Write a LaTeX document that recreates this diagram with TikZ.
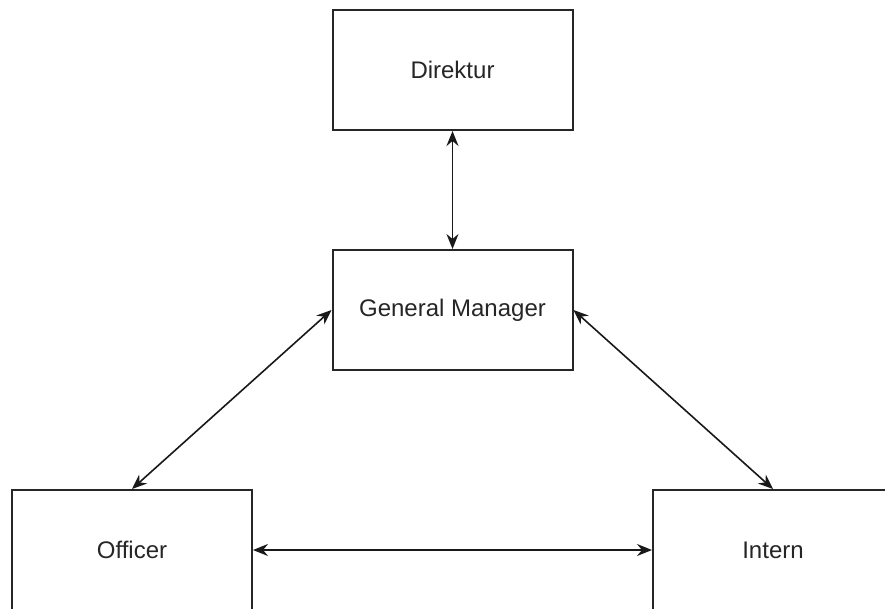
\documentclass[tikz,border=0pt]{standalone}
\usepackage{fontspec}
\setmainfont{Liberation Sans}
\usetikzlibrary{arrows.meta}
\begin{document}
\begin{tikzpicture}[x=1pt,y=-1pt,
  box/.style={draw=black!85, line width=2pt, fill=white, minimum width=240pt, minimum height=120pt, inner sep=0pt, font=\fontsize{24}{28}\selectfont, text=black!85},
  link/.style={line width=1.6pt, black!90, {Stealth[length=15pt,width=12pt,inset=5pt]}-{Stealth[length=15pt,width=12pt,inset=5pt]}}]
\useasboundingbox (0,0) rectangle (885,608);
\clip (0,0) rectangle (885,608);
\fill[white] (0,0) rectangle (885,608);
\node[box] (dir) at (452.5,70) {Direktur};
\node[box] (gm) at (452.5,310) {General Manager};
\node[box] (off) at (132,550) {Officer};
\node[box] (int) at (773,550) {Intern};
\draw[link] (dir.south) -- (gm.north);
\draw[link] (gm.west) -- (off.north);
\draw[link] (gm.east) -- (int.north);
\draw[link] (off.east) -- (int.west);
\end{tikzpicture}
\end{document}
